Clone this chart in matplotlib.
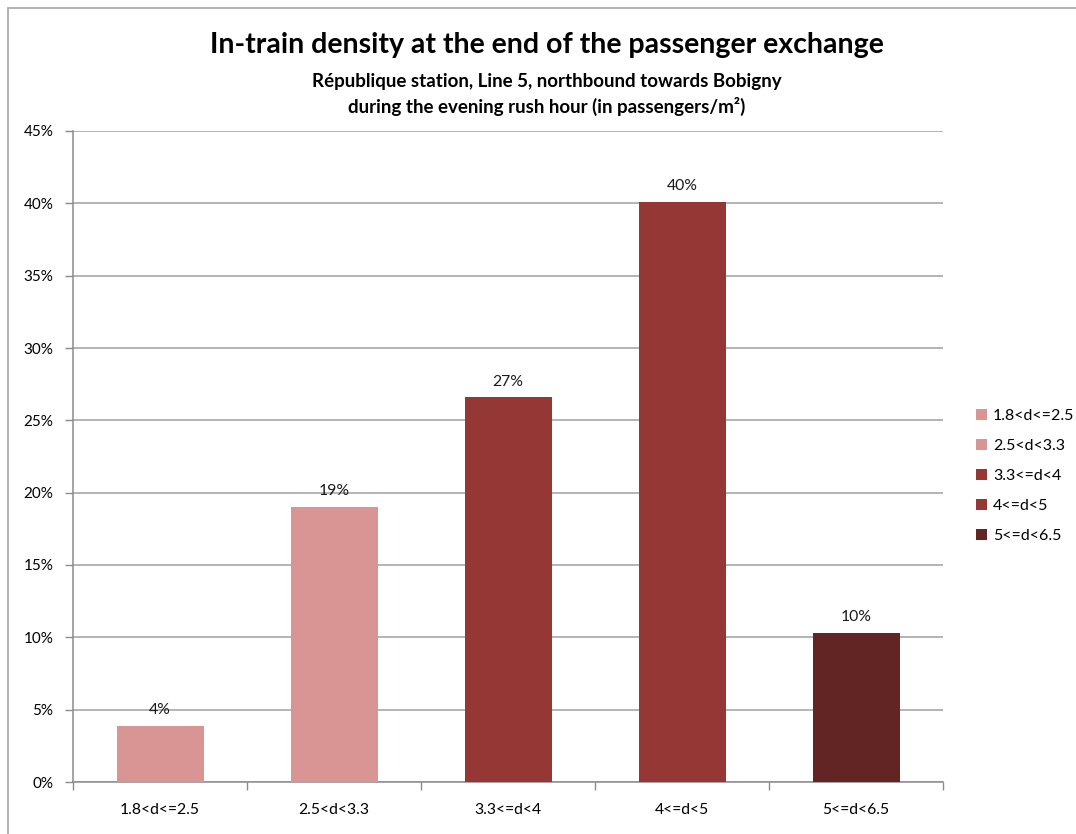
import matplotlib
matplotlib.use("Agg")
import matplotlib.pyplot as plt
from matplotlib.patches import Patch, Rectangle
from matplotlib.ticker import MultipleLocator, FuncFormatter

categories = ["1.8<d<=2.5", "2.5<d<3.3", "3.3<=d<4", "4<=d<5", "5<=d<6.5"]
values = [3.9, 19.0, 26.6, 40.1, 10.3]
labels = ["4%", "19%", "27%", "40%", "10%"]
colors = ["#D99594", "#D99594", "#953735", "#953735", "#632523"]

plt.rcParams['font.family'] = ['Lato', 'DejaVu Sans']

fig = plt.figure(figsize=(10.76, 8.34), dpi=100)
fig.patch.set_facecolor("white")

# outer chart border
fig.add_artist(Rectangle((8/1076, -0.1), 1.2, 1 - 8/834 + 0.1, transform=fig.transFigure,
                         fill=False, edgecolor="#A6A6A6", linewidth=1.2))

ax = fig.add_axes([73/1076, 1 - 782/834, (943 - 73)/1076, (782 - 131)/834])
x = list(range(len(categories)))
bars = ax.bar(x, values, width=0.5, color=colors, zorder=3)
for xi, v, lab in zip(x, values, labels):
    ax.text(xi, v + 0.6, lab, ha="center", va="bottom", fontsize=11.3, color="#1a1a1a")

ax.set_xlim(-0.5, len(categories) - 0.5)
ax.set_ylim(0, 45)
ax.yaxis.set_major_locator(MultipleLocator(5))
ax.yaxis.set_major_formatter(FuncFormatter(lambda v, p: f"{v:.0f}%"))
ax.grid(axis="y", color="#A0A0A0", linewidth=1.1, zorder=0)
ax.set_xticks([i - 0.5 for i in range(len(categories) + 1)], minor=False)
ax.set_xticklabels([""] * (len(categories) + 1))
ax.set_xticks(x, minor=True)
ax.set_xticklabels(categories, minor=True)
ax.tick_params(axis="x", which="major", length=6, color="#8C8C8C", width=1)
ax.tick_params(axis="x", which="minor", length=0, pad=15, labelsize=11.3)
ax.tick_params(axis="y", length=6, color="#8C8C8C", width=1, labelsize=11, pad=8)
for s in ["top", "right"]:
    ax.spines[s].set_visible(False)
for s in ["left", "bottom"]:
    ax.spines[s].set_color("#8C8C8C")
    ax.spines[s].set_linewidth(1.1)

handles = [Patch(facecolor=c, edgecolor="none") for c in colors]
fig.legend(handles, categories, loc="center left", bbox_to_anchor=(962/1076, 1 - 476/834),
           frameon=False, fontsize=11.5, handlelength=0.65, handleheight=0.65,
           handletextpad=0.4, labelspacing=1.0)

cx = 547 / 1076
fig.text(cx, 1 - 45/834, "In-train density at the end of the passenger exchange",
         ha="center", va="center", fontsize=20.5, fontweight="bold")
fig.text(cx, 1 - 82/834, "République station, Line 5, northbound towards Bobigny",
         ha="center", va="center", fontsize=13.5, fontweight="bold")
fig.text(cx, 1 - 106/834, "during the evening rush hour (in passengers/m²)",
         ha="center", va="center", fontsize=13.5, fontweight="bold")

fig.savefig("out.png", dpi=100)
